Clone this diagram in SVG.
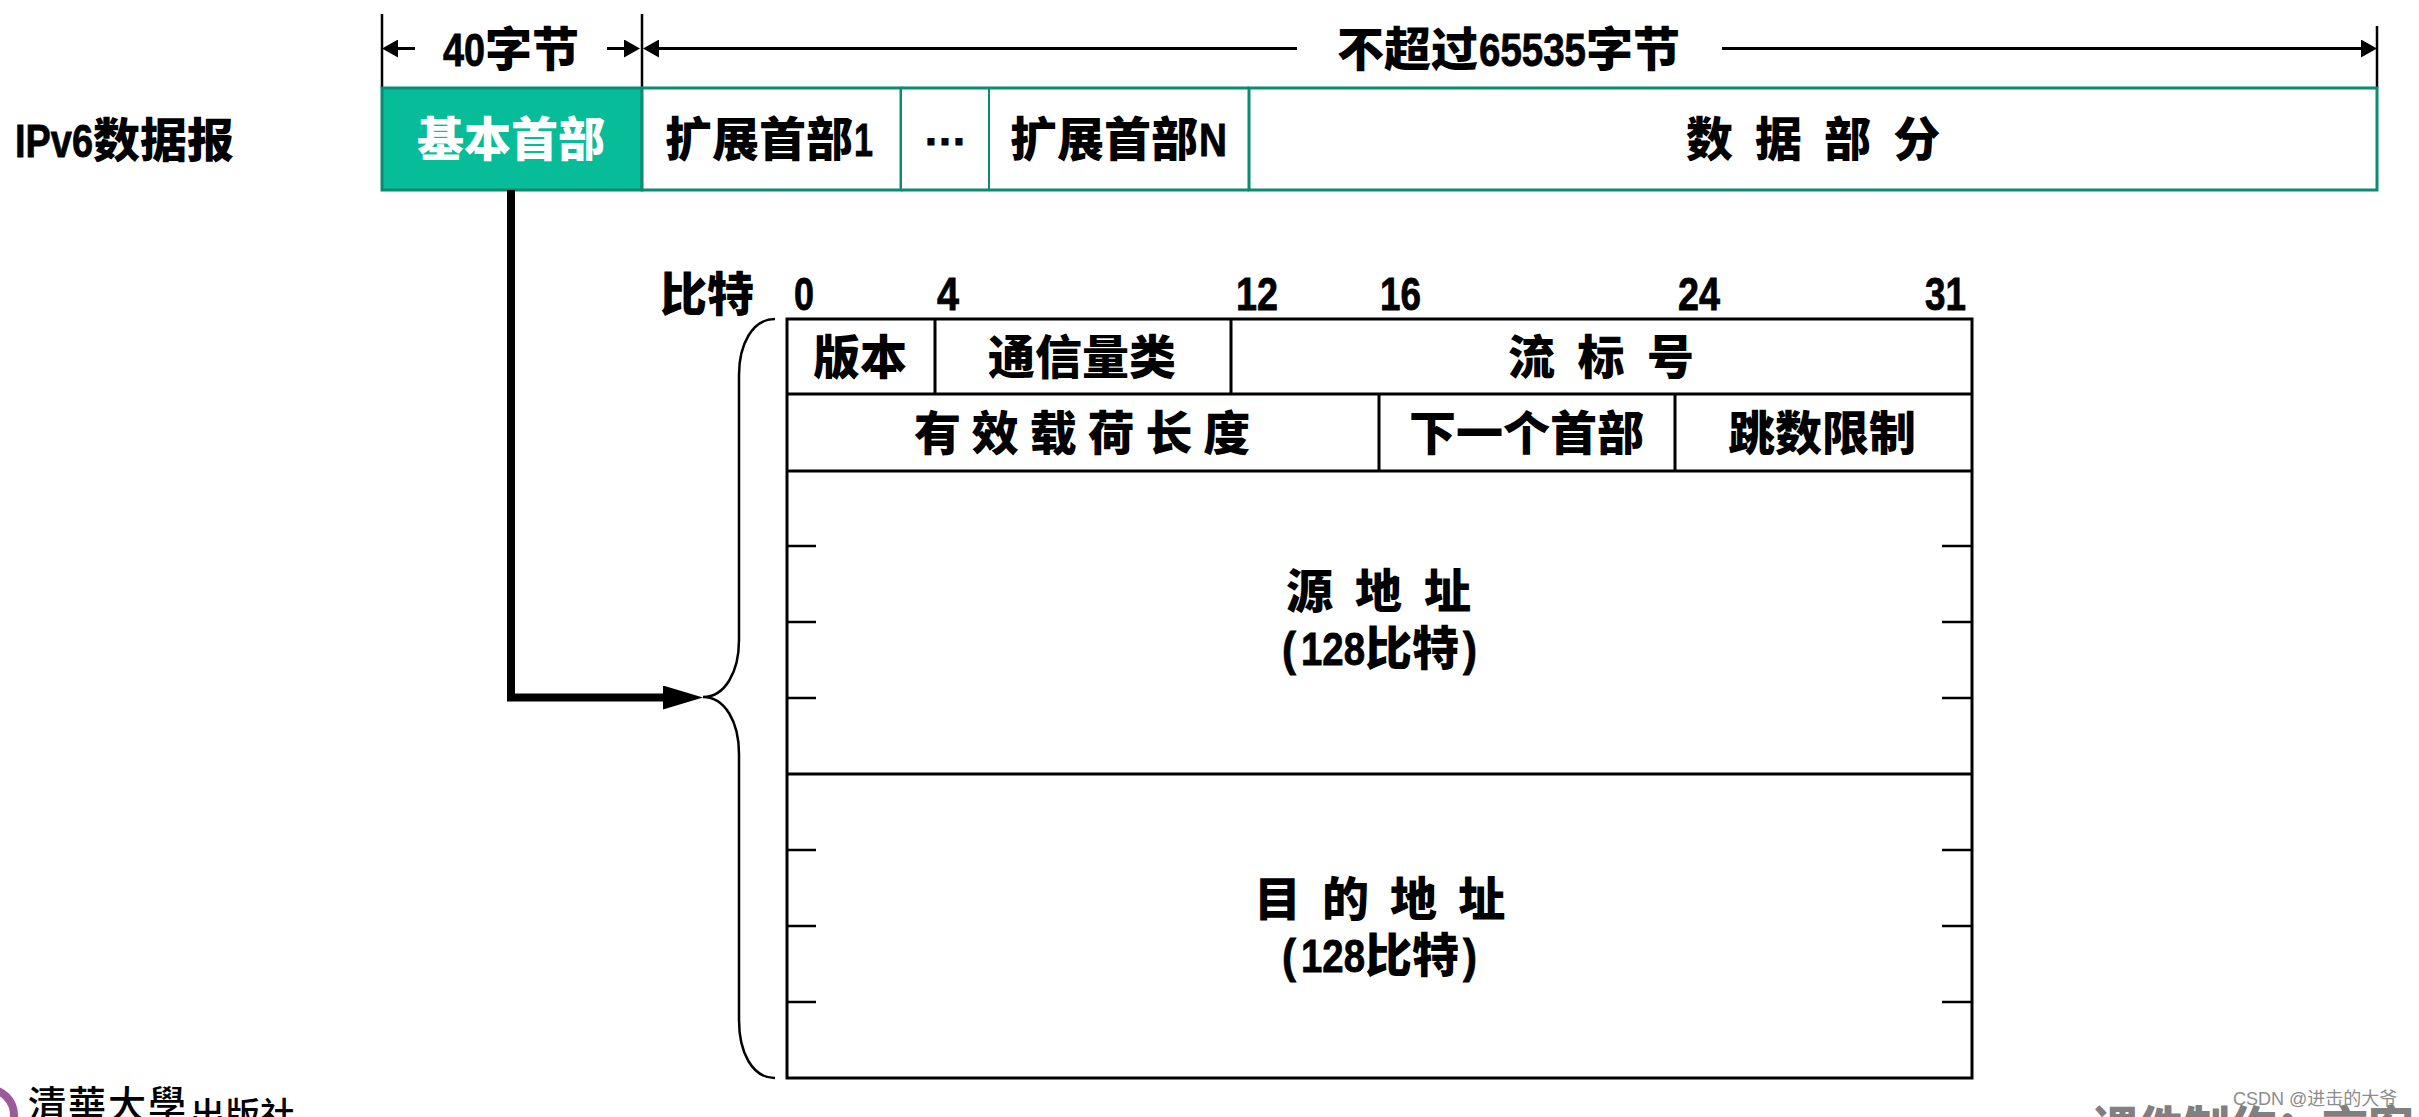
<svg xmlns="http://www.w3.org/2000/svg" width="2419" height="1117" viewBox="0 0 2419 1117">
<style>
text{font-family:"Liberation Sans","Noto Sans CJK SC",sans-serif;font-weight:900;font-size:47px;fill:#000;white-space:pre}
.n{font-weight:700;stroke:#000;stroke-width:.8}
.bit{font-size:46px;font-weight:700;stroke:#000;stroke-width:.8}
.g{fill:#fff;stroke:#0b8c72;stroke-width:3}
.k{stroke:#000;stroke-width:3;fill:none}
.t{stroke:#000;stroke-width:2.500;fill:none}
.dim{stroke:#000;stroke-width:3;fill:none}
.ext{stroke:#000;stroke-width:2.500;fill:none}
</style>
<defs>
<marker id="a" markerUnits="userSpaceOnUse" markerWidth="16" markerHeight="18" refX="8" refY="9" orient="auto"><path d="M0 0L16 9L0 18Z" fill="#000"/></marker>
<marker id="b" markerUnits="userSpaceOnUse" markerWidth="40" markerHeight="24" refX="5" refY="12" orient="auto"><path d="M0 0L40 12L0 24Z" fill="#000"/></marker>
</defs>
<rect width="2419" height="1117" fill="#fff"/>
<g id="label-ipv6"><text y="157"><tspan class="n" x="15" textLength="78" lengthAdjust="spacingAndGlyphs">IPv6</tspan><tspan x="93">数据报</tspan></text></g>
<g id="dimensions">
<path class="ext" d="M382 14V88M642 14V88M2377 26V88"/>
<text y="66"><tspan class="n" x="443" textLength="42" lengthAdjust="spacingAndGlyphs">40</tspan><tspan x="485">字节</tspan></text>
<text y="66"><tspan x="1337">不超过</tspan><tspan class="n" x="1479" textLength="107" lengthAdjust="spacingAndGlyphs">65535</tspan><tspan x="1586">字节</tspan></text>
</g>
<g id="node-base"><rect x="382" y="88" width="260" height="102" fill="#07bc99" stroke="#0b8c72" stroke-width="3"/><text x="417" y="156" style="fill:#fff">基本首部</text></g>
<g id="node-ext1"><rect class="g" x="642" y="88" width="259" height="102"/><text y="156"><tspan x="665">扩展首部</tspan><tspan class="n" x="854" textLength="19" lengthAdjust="spacingAndGlyphs">1</tspan></text></g>
<g id="node-dots"><rect class="g" x="901" y="88" width="88" height="102" style="stroke-width:2"/><path class="g" d="M901 88H989M901 190H989"/><text class="n" x="923" y="145" style="font-size:44px">…</text></g>
<g id="node-extn"><rect class="g" x="989" y="88" width="260" height="102" style="stroke-width:2"/><path class="g" d="M989 88H1249M989 190H1249"/><text y="156"><tspan x="1010">扩展首部</tspan><tspan class="n" x="1199" textLength="28" lengthAdjust="spacingAndGlyphs">N</tspan></text></g>
<g id="node-data"><rect class="g" x="1249" y="88" width="1128" height="102"/><text x="1686" y="156" style="word-spacing:9px">数 据 部 分</text></g>
<g id="bits">
<text x="660" y="311">比特</text>
<text class="bit" x="794" y="310" textLength="20" lengthAdjust="spacingAndGlyphs">0</text>
<text class="bit" x="937" y="310" textLength="22" lengthAdjust="spacingAndGlyphs">4</text>
<text class="bit" x="1236" y="310" textLength="42" lengthAdjust="spacingAndGlyphs">12</text>
<text class="bit" x="1380" y="310" textLength="41" lengthAdjust="spacingAndGlyphs">16</text>
<text class="bit" x="1678" y="310" textLength="42" lengthAdjust="spacingAndGlyphs">24</text>
<text class="bit" x="1925" y="310" textLength="41" lengthAdjust="spacingAndGlyphs">31</text>
</g>
<g id="header-frame"><rect class="k" x="787" y="319" width="1185" height="759"/></g>
<g id="field-version"><path class="k" d="M935 319V394"/><text x="813" y="374">版本</text></g>
<g id="field-class"><path class="k" d="M1231 319V394"/><text x="988" y="374">通信量类</text></g>
<g id="field-flow"><path class="k" d="M787 394H1972"/><text x="1508" y="374" style="word-spacing:9.500px">流 标 号</text></g>
<g id="field-length"><path class="k" d="M1379 394V471"/><text x="914" y="450" style="word-spacing:-2.200px">有 效 载 荷 长 度</text></g>
<g id="field-next"><path class="k" d="M1675 394V471"/><text x="1409" y="450">下一个首部</text></g>
<g id="field-hop"><path class="k" d="M787 471H1972"/><text x="1728" y="450">跳数限制</text></g>
<g id="field-src">
<path class="k" d="M787 774H1972"/>
<path class="t" d="M787 546H816M787 622H816M787 698H816M1942 546H1972M1942 622H1972M1942 698H1972"/>
<text x="1286" y="608" style="word-spacing:9px">源 地 址</text>
<text y="665"><tspan class="n" x="1282" textLength="14" lengthAdjust="spacingAndGlyphs">(</tspan><tspan class="n" x="1301" textLength="64" lengthAdjust="spacingAndGlyphs">128</tspan><tspan x="1365">比特</tspan><tspan class="n" x="1463" textLength="14" lengthAdjust="spacingAndGlyphs">)</tspan></text>
</g>
<g id="field-dst">
<path class="t" d="M787 850H816M787 926H816M787 1002H816M1942 850H1972M1942 926H1972M1942 1002H1972"/>
<text x="1254" y="916" style="word-spacing:8px">目 的 地 址</text>
<text y="972"><tspan class="n" x="1282" textLength="14" lengthAdjust="spacingAndGlyphs">(</tspan><tspan class="n" x="1301" textLength="64" lengthAdjust="spacingAndGlyphs">128</tspan><tspan x="1365">比特</tspan><tspan class="n" x="1463" textLength="14" lengthAdjust="spacingAndGlyphs">)</tspan></text>
</g>
<g id="brace"><path d="M775 319C752 319 739 345 739 375V640C739 672 725 697 703 697C725 697 739 722 739 754V1020C739 1052 752 1078 775 1078" fill="none" stroke="#000" stroke-width="2.500"/></g>
<g id="connectors">
<path class="dim" d="M415 48.500H390" marker-end="url(#a)"/>
<path class="dim" d="M607 48.500H632" marker-end="url(#a)"/>
<path class="dim" d="M1297 48.500H651" marker-end="url(#a)"/>
<path class="dim" d="M1722 48.500H2369" marker-end="url(#a)"/>
<path d="M511 190V697.500H668" fill="none" stroke="#000" stroke-width="8" marker-end="url(#b)"/>
</g>
<g id="footer-logo">
<circle cx="-12" cy="1115" r="26" fill="#fff" stroke="#9b5a9b" stroke-width="8"/>
<text x="28" y="1118" style="font-family:'Noto Sans CJK TC',sans-serif;font-weight:500;font-size:38px;letter-spacing:2px">清華大學</text>
<text x="190" y="1128" style="font-family:'Noto Sans CJK SC',sans-serif;font-weight:500;font-size:35px">出版社</text>
</g>
<g id="footer-credit"><text x="2092" y="1144" style="font-family:'Noto Sans CJK SC',sans-serif;font-size:46px;fill:#808080">课件制作：言客</text></g>
<g id="watermark"><text x="2233" y="1105" style="font-family:'Liberation Sans','Noto Sans CJK SC',sans-serif;font-weight:400;font-size:18px;fill:#8c8c8c">CSDN @进击的大爷</text></g>
</svg>
